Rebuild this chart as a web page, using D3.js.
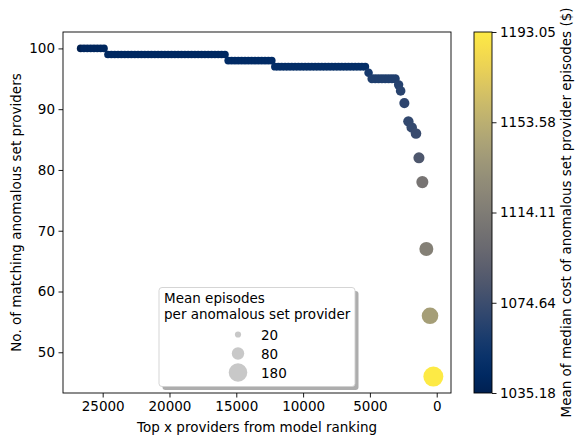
<!DOCTYPE html>
<html>
<head>
<meta charset="utf-8">
<script src="https://cdn.jsdelivr.net/npm/d3@7"></script>
<style>
  body { margin: 0; background: #fff; }
  text { font-family: "DejaVu Sans", sans-serif; }
</style>
</head>
<body>
<div id="app"></div>
<script>

// rows of the ranking curve, top x providers (x) and matches (y)
var topX = [
    26650, 26400, 26150, 25900, 25650, 25400, 25150, 24900,
    24600, 24350, 24100, 23850, 23600, 23350, 23100, 22850, 22600, 22350, 22100, 21850,
    21600, 21350, 21100, 20850, 20600, 20350, 20100, 19850, 19600, 19350, 19100, 18850,
    18600, 18350, 18100, 17850, 17600, 17350, 17100, 16850, 16600, 16350, 16100, 15850,
    15600, 15350, 15100, 14850, 14600, 14350, 14100, 13850, 13600, 13350, 13100, 12850, 12600, 12350,
    12100, 11850, 11600, 11350, 11100, 10850, 10600, 10350, 10100, 9850, 9600, 9350, 9100, 8850,
    8600, 8350, 8100, 7850, 7600, 7350, 7100, 6850, 6600, 6350, 6100, 5850, 5600, 5350,
    5100,
    4850, 4600, 4350, 4100, 3850, 3600, 3350, 3100,
    2850, 2700, 2420, 2120, 1870, 1550, 1330, 1075, 775, 500, 250
];

var matches = [
    100, 100, 100, 100, 100, 100, 100, 100,
    99, 99, 99, 99, 99, 99, 99, 99, 99, 99, 99, 99,
    99, 99, 99, 99, 99, 99, 99, 99, 99, 99, 99, 99,
    99, 99, 99, 99, 99, 99, 99, 99, 99, 99, 99, 99,
    98, 98, 98, 98, 98, 98, 98, 98, 98, 98, 98, 98, 98, 98,
    97, 97, 97, 97, 97, 97, 97, 97, 97, 97, 97, 97, 97, 97,
    97, 97, 97, 97, 97, 97, 97, 97, 97, 97, 97, 97, 97, 97,
    96,
    95, 95, 95, 95, 95, 95, 95, 95,
    94, 93, 91, 88, 87, 86, 82, 78, 67, 56, 46
];

var meanCost = [
    1035.18, 1041, 1041, 1041, 1041, 1041, 1041, 1041,
    1042, 1042, 1042, 1042, 1042, 1042, 1042, 1042, 1042, 1042, 1042, 1042,
    1042, 1042, 1042, 1042, 1042, 1042, 1042, 1042, 1042, 1042, 1042, 1042,
    1042, 1042, 1042, 1042, 1042, 1042, 1042, 1042, 1042, 1042, 1042, 1042,
    1045, 1045, 1045, 1045, 1045, 1045, 1045, 1045, 1045, 1045, 1045, 1045, 1045, 1045,
    1047, 1047, 1047, 1047, 1047, 1047, 1047, 1047, 1047, 1047, 1047, 1047, 1047, 1047,
    1047, 1047, 1047, 1047, 1047, 1047, 1047, 1047, 1047, 1047, 1047, 1047, 1047, 1047,
    1057,
    1062, 1062, 1062, 1062, 1062, 1062, 1062, 1062,
    1064, 1066, 1068, 1070, 1071, 1073, 1083, 1108, 1118, 1141, 1193.05
];

var meanEpisodes = [
    30, 30, 30, 30, 30, 30, 30, 30,
    31, 31, 31, 31, 31, 31, 31, 31, 31, 31, 31, 31,
    31, 31, 31, 31, 31, 31, 31, 31, 31, 31, 31, 31,
    31, 31, 31, 31, 31, 31, 31, 31, 31, 31, 31, 31,
    32, 32, 32, 32, 32, 32, 32, 32, 32, 32, 32, 32, 32, 32,
    33, 33, 33, 33, 33, 33, 33, 33, 33, 33, 33, 33, 33, 33,
    33, 33, 33, 33, 33, 33, 33, 33, 33, 33, 33, 33, 33, 33,
    38,
    42, 42, 42, 42, 42, 42, 42, 42,
    46, 48, 53, 56, 57, 58, 64, 76, 102, 143, 208
];

var xTicks = [25000, 20000, 15000, 10000, 5000, 0];
var yTicks = [50, 60, 70, 80, 90, 100];
var costTicks = [1035.18, 1074.64, 1114.11, 1153.58, 1193.05];
var legendEpisodes = [20, 80, 180];

var W = 576, H = 437;
var plot = {left: 63, top: 32, right: 451, bottom: 393};
var bar = {left: 474, right: 492};
var FS = "13.5px";

function translate(x, y) {
    return "translate(" + x + ", " + y + ")";
}

var points = topX.map(function (d, i) {
    return {x: d, y: matches[i], cost: meanCost[i], ep: meanEpisodes[i]};
});

function padded(ext) {
    var m = (ext[1] - ext[0]) * 0.05;
    return [ext[0] - m, ext[1] + m];
}

var xPad = padded(d3.extent(topX));
var x = d3.scaleLinear()
    .domain([xPad[1], xPad[0]])
    .range([plot.left, plot.right]);

var y = d3.scaleLinear()
    .domain(padded(d3.extent(matches)))
    .range([plot.bottom, plot.top]);

var color = d3.scaleSequential(d3.interpolateCividis)
    .domain([costTicks[0], costTicks[costTicks.length - 1]]);

var size = d3.scaleSqrt().domain([0, 180]).range([0, 9.3]);

var svg = d3.select("#app")
    .append("svg")
    .attr("width", W)
    .attr("height", H);

svg.append("defs").append("clipPath")
    .attr("id", "clip")
    .append("rect")
    .attr("x", plot.left)
    .attr("y", plot.top)
    .attr("width", plot.right - plot.left)
    .attr("height", plot.bottom - plot.top);

svg.append("g")
    .attr("clip-path", "url(#clip)")
    .selectAll("circle")
    .data(points)
    .enter()
    .append("circle")
    .attr("cx", function (d) { return x(d.x); })
    .attr("cy", function (d) { return y(d.y); })
    .attr("r", function (d) { return size(d.ep); })
    .style("fill", function (d) { return color(d.cost); });

// axes
var xAxis = svg.append("g")
    .attr("transform", translate(0, plot.bottom))
    .call(d3.axisBottom(x).tickValues(xTicks).tickSize(4.5).tickPadding(3.5)
	  .tickFormat(d3.format("d")));

var yAxis = svg.append("g")
    .attr("transform", translate(plot.left, 0))
    .call(d3.axisLeft(y).tickValues(yTicks).tickSize(4.5).tickPadding(3.5));

[xAxis, yAxis].forEach(function (g) {
    g.select(".domain").remove();
    g.selectAll("text").style("font-size", FS).style("fill", "#000")
	.style("font-family", "DejaVu Sans, sans-serif");
    g.selectAll("line").style("stroke", "#000").style("stroke-width", 0.9);
});

svg.append("rect")
    .attr("x", plot.left)
    .attr("y", plot.top)
    .attr("width", plot.right - plot.left)
    .attr("height", plot.bottom - plot.top)
    .style("fill", "none")
    .style("stroke", "#000")
    .style("stroke-width", 0.9);

svg.append("text")
    .attr("x", (plot.left + plot.right) / 2)
    .attr("y", 432)
    .attr("text-anchor", "middle")
    .style("font-size", FS)
    .text("Top x providers from model ranking");

svg.append("text")
    .attr("transform", translate(21, (plot.top + plot.bottom) / 2) + " rotate(-90)")
    .attr("text-anchor", "middle")
    .style("font-size", FS)
    .text("No. of matching anomalous set providers");

// colorbar
var grad = svg.select("defs").append("linearGradient")
    .attr("id", "cbar")
    .attr("x1", 0).attr("y1", 1).attr("x2", 0).attr("y2", 0);

grad.selectAll("stop")
    .data(d3.range(0, 1.0001, 0.05))
    .enter()
    .append("stop")
    .attr("offset", function (t) { return t; })
    .attr("stop-color", function (t) { return d3.interpolateCividis(t); });

var cy = d3.scaleLinear()
    .domain(color.domain())
    .range([plot.bottom, plot.top]);

svg.append("rect")
    .attr("x", bar.left)
    .attr("y", plot.top)
    .attr("width", bar.right - bar.left)
    .attr("height", plot.bottom - plot.top)
    .style("fill", "url(#cbar)")
    .style("stroke", "#000")
    .style("stroke-width", 0.9);

var cAxis = svg.append("g")
    .attr("transform", translate(bar.right, 0))
    .call(d3.axisRight(cy).tickValues(costTicks).tickSize(4.5).tickPadding(3.5)
	  .tickFormat(d3.format(".2f")));
cAxis.select(".domain").remove();
cAxis.selectAll("text").style("font-size", FS).style("fill", "#000")
    .style("font-family", "DejaVu Sans, sans-serif");
cAxis.selectAll("line").style("stroke", "#000").style("stroke-width", 0.9);

svg.append("text")
    .attr("transform", translate(571, (plot.top + plot.bottom) / 2) + " rotate(-90)")
    .attr("text-anchor", "middle")
    .style("font-size", FS)
    .text("Mean of median cost of anomalous set provider episodes ($)");

// size legend
var lg = svg.append("g").attr("transform", translate(159, 287.5));
var lw = 196, lh = 99;

lg.append("rect")
    .attr("x", 3.5).attr("y", 3.5)
    .attr("width", lw).attr("height", lh)
    .attr("rx", 3)
    .style("fill", "#999")
    .style("opacity", 0.8);

lg.append("rect")
    .attr("width", lw).attr("height", lh)
    .attr("rx", 3)
    .style("fill", "#fff")
    .style("stroke", "#d0d0d0")
    .style("stroke-width", 0.9);

lg.append("text")
    .attr("x", 5).attr("y", 15)
    .style("font-size", FS)
    .text("Mean episodes");

lg.append("text")
    .attr("x", 5).attr("y", 31.5)
    .style("font-size", FS)
    .text("per anomalous set provider");

var item = lg.selectAll(".item")
    .data(legendEpisodes)
    .enter()
    .append("g")
    .attr("class", "item")
    .attr("transform", function (d, i) { return translate(0, 47 + i * 19); });

item.append("circle")
    .attr("cx", 79)
    .attr("r", function (d) { return size(d); })
    .style("fill", "#c8c8c8");

item.append("text")
    .attr("x", 102)
    .attr("y", 5)
    .style("font-size", FS)
    .text(function (d) { return d; });

</script>
</body>
</html>
